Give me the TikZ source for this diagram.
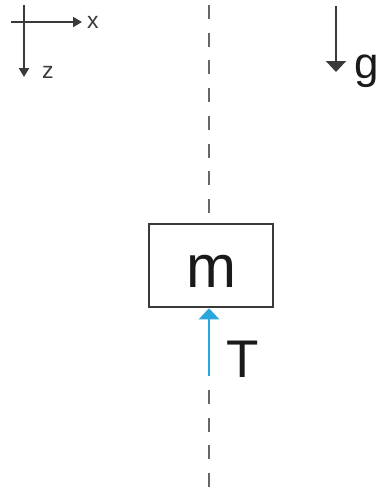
\documentclass[tikz,border=0pt]{standalone}
\usepackage{fontspec}
\setmainfont{Liberation Sans}
\usetikzlibrary{arrows.meta,positioning}
\definecolor{fdark}{HTML}{3A3A3A}
\definecolor{fgray}{HTML}{666666}
\definecolor{fblue}{HTML}{29A8E0}
\definecolor{ftext}{HTML}{1A1A1A}

\begin{document}
\begin{tikzpicture}[x=1pt, y=-1pt, every node/.style={inner sep=0pt, text=ftext}]
    \useasboundingbox (0,0) rectangle (379,491);
    % axes
    \coordinate (xstart) at (11,22);
    \coordinate (xtip) at (82,22);
    \coordinate (ztop) at (24,5);
    \coordinate (ztip) at (24,77);
    \draw[fdark, line width=2pt, -{Triangle[length=9pt,width=10pt]}] (xstart) -- (xtip);
    \draw[fdark, line width=2pt, -{Triangle[length=9pt,width=10pt]}] (ztop) -- (ztip);
    \node[anchor=base west, font=\fontsize{23}{23}\selectfont, text=fdark] (xlab) at (87,28) {x};
    \node[anchor=base west, font=\fontsize{23}{23}\selectfont, text=fdark] (zlab) at (42,78) {z};
    % gravity
    \coordinate (gtop) at (336,6);
    \coordinate (gtip) at (336,72);
    \draw[fdark, line width=2pt, -{Triangle[length=11pt,width=20pt]}] (gtop) -- (gtip);
    \node[anchor=base west, font=\fontsize{44}{44}\selectfont] (glab) at (354,78) {g};
    % mass
    \node[draw=fdark, line width=2.5pt, minimum width=124pt, minimum height=83pt,
      text height=43pt, font=\fontsize{60}{60}\selectfont] (mass) at (211,265.5) {m};
    % axis of the string
    \coordinate (dtop) at (209,5);
    \coordinate (dbot) at (209,390);
    \coordinate (dend) at (209,491);
    \draw[fgray, line width=2.5pt, dash pattern=on 14pt off 13.7pt] (dtop) -- (dtop |- mass.north);
    \draw[fgray, line width=2.5pt, dash pattern=on 14pt off 13.7pt] (dbot) -- (dend);
    % tension
    \coordinate (ttail) at (209,376);
    \draw[fblue, line width=2.5pt, -{Triangle[length=11pt,width=20pt]}] (ttail) -- (ttail |- mass.south);
    \node[anchor=base west, font=\fontsize{53}{53}\selectfont] (tlab) at (226,377) {T};
\end{tikzpicture}
\end{document}
